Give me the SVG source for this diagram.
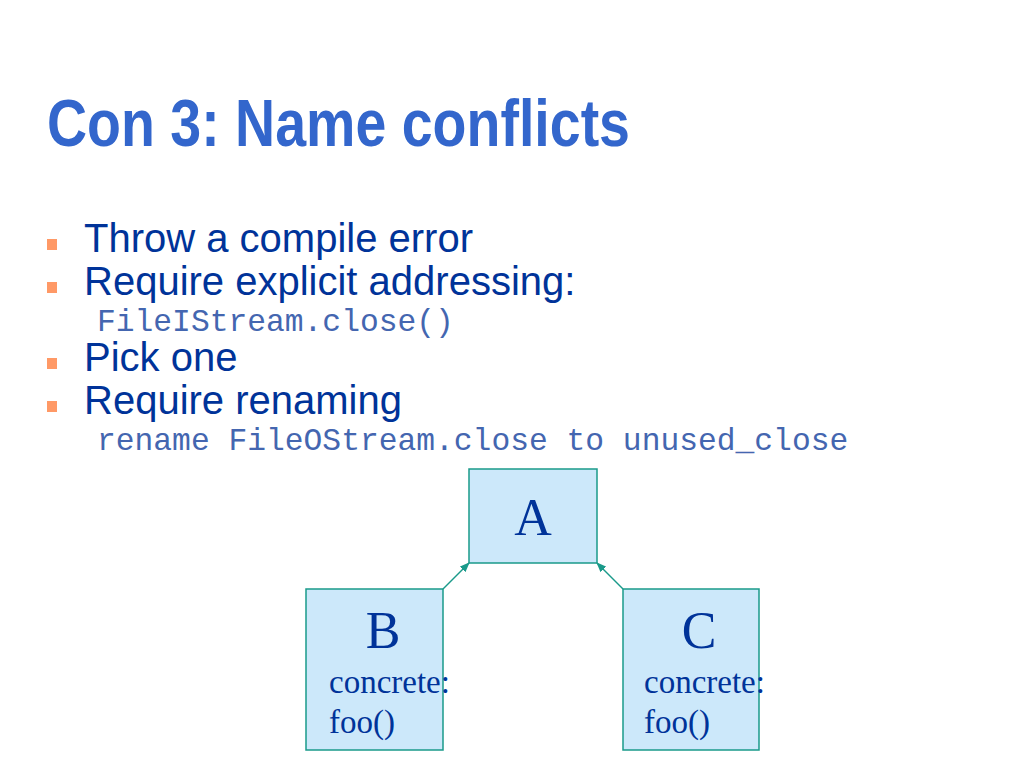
<svg xmlns="http://www.w3.org/2000/svg" width="1024" height="768" viewBox="0 0 1024 768">
<defs>
<style>
.title{font-family:"Liberation Sans Narrow","Liberation Sans",Arial,sans-serif;font-weight:bold;font-size:66px;fill:#3366CC}
.bul{font-family:"Liberation Sans",Arial,sans-serif;font-size:40px;fill:#003399}
.mono{font-family:"Liberation Mono","Courier New",monospace;font-size:31.3px;fill:#4466B0}
.sq{fill:#FF9966}
.box{fill:#CCE8FA;stroke:#1A9A8A;stroke-width:1.5}
.big{font-family:"Liberation Serif","Times New Roman",serif;font-size:52px;fill:#003399;text-anchor:middle}
.small{font-family:"Liberation Serif","Times New Roman",serif;font-size:33px;fill:#003399}
.conn{stroke:#1A9A8A;stroke-width:1.5;fill:none}
</style>
<marker id="arr" markerWidth="10" markerHeight="8" refX="9" refY="4" orient="auto" markerUnits="userSpaceOnUse">
<path d="M0,0 L10,4 L0,8 Z" fill="#1A9A8A"/>
</marker>
</defs>
<rect width="1024" height="768" fill="#FFFFFF"/>
<text class="title" x="47" y="146" textLength="583" lengthAdjust="spacingAndGlyphs">Con 3: Name conflicts</text>
<g id="bullets">
<rect class="sq" x="47" y="239" width="10" height="11"/>
<text class="bul" x="84" y="252">Throw a compile error</text>
<rect class="sq" x="47" y="282" width="10" height="11"/>
<text class="bul" x="84" y="295">Require explicit addressing:</text>
<text class="mono" x="97" y="331">FileIStream.close()</text>
<rect class="sq" x="47" y="358" width="10" height="11"/>
<text class="bul" x="84" y="371">Pick one</text>
<rect class="sq" x="47" y="401" width="10" height="11"/>
<text class="bul" x="84" y="414">Require renaming</text>
<text class="mono" x="97" y="450">rename FileOStream.close to unused_close</text>
</g>
<g id="connectors">
<line class="conn" x1="443" y1="589" x2="469" y2="563" marker-end="url(#arr)"/>
<line class="conn" x1="623" y1="589" x2="597" y2="563" marker-end="url(#arr)"/>
</g>
<g id="A">
<rect class="box" x="469" y="469" width="128" height="94"/>
<text class="big" x="533" y="535">A</text>
</g>
<g id="B">
<rect class="box" x="306" y="589" width="137" height="161"/>
<text class="big" x="383" y="648">B</text>
<text class="small" x="329" y="693">concrete:</text>
<text class="small" x="329" y="733">foo()</text>
</g>
<g id="C">
<rect class="box" x="623" y="589" width="136" height="161"/>
<text class="big" x="699" y="648">C</text>
<text class="small" x="644" y="693">concrete:</text>
<text class="small" x="644" y="733">foo()</text>
</g>
</svg>
